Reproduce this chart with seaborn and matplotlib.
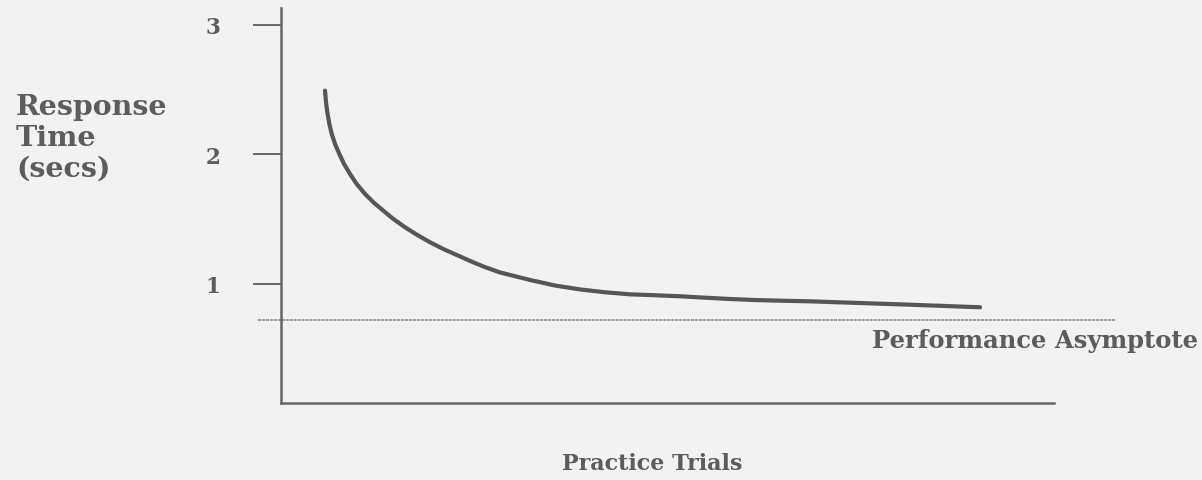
import matplotlib
matplotlib.use("Agg")
import matplotlib.pyplot as plt
import seaborn as sns
import pandas as pd

# Learning curve: response time falling with practice toward an asymptote
trials = [5.69, 5.82, 5.99, 6.25, 6.56, 6.99, 7.54, 8.15, 8.93, 9.79, 10.87,
          11.94, 13.23, 14.53, 16.04, 17.55, 19.28, 20.99, 22.73, 24.45, 26.17,
          28.33, 32.21, 35.45, 38.68, 41.91, 45.15, 48.38, 51.62, 54.85, 58.09,
          61.32, 64.55, 68.43, 74.90, 81.37, 90.43]
response_secs = [2.493, 2.403, 2.326, 2.236, 2.158, 2.081, 2.004, 1.927, 1.849,
                 1.772, 1.695, 1.631, 1.566, 1.502, 1.438, 1.381, 1.322, 1.270,
                 1.224, 1.178, 1.135, 1.089, 1.031, 0.988, 0.958, 0.936, 0.920,
                 0.913, 0.905, 0.894, 0.884, 0.876, 0.871, 0.866, 0.853, 0.840,
                 0.820]
asymptote = 0.72
y_ticks = [1, 2, 3]
y_tick_labels = ["1", "2", "3"]

ylabel_text = "Response\nTime\n(secs)"
xlabel_text = "Practice Trials"
asymptote_text = "Performance Asymptote"

BG = "#f2f2f2"
INK = "#5c5c5c"
LINE = "#666666"

sns.set_theme(style="white")
plt.rcParams["font.family"] = ["DejaVu Serif"]
plt.rcParams["font.weight"] = "bold"

fig = plt.figure(figsize=(12.02, 4.81), dpi=100, facecolor=BG)
ax = fig.add_axes([0.2338, 0.1601, 0.6431, 0.8212])
ax.set_facecolor(BG)

df = pd.DataFrame({"trial": trials, "rt": response_secs})
sns.lineplot(data=df, x="trial", y="rt", ax=ax, color="#565656", linewidth=3.0,
             estimator=None, sort=False, solid_capstyle="round",
             solid_joinstyle="round")

# Asymptote line runs a little past both axes
ax.axhline(asymptote, xmin=-0.03, xmax=1.079, color="#858585", linewidth=1.1,
           linestyle=(0, (2, 0.6)), clip_on=False)
ax.annotate(asymptote_text, xy=(0.7646, asymptote),
            xycoords=("axes fraction", "data"), xytext=(0, -19.5),
            textcoords="offset points", va="baseline", ha="left",
            fontsize=17.5, fontweight="bold", color=INK, annotation_clip=False)

ax.set_xlim(0, 100)
ax.set_ylim(0.081, 3.131)
ax.set_xticks([])
ax.set_yticks(y_ticks)
ax.set_yticklabels(y_tick_labels)
ax.tick_params(axis="y", direction="out", length=20, width=1.4, color=LINE,
               pad=34.5, labelsize=15.5, labelcolor=INK, left=True)
for lbl in ax.get_yticklabels():
    lbl.set_horizontalalignment("left")
    lbl.set_fontweight("bold")

for side in ("top", "right"):
    ax.spines[side].set_visible(False)
for side in ("left", "bottom"):
    ax.spines[side].set_color(LINE)
    ax.spines[side].set_linewidth(1.8)

ax.set_xlabel("")
ax.set_ylabel("")

fig.text(0.0133, 1 - 177 / 481, ylabel_text, ha="left", va="baseline",
         fontsize=20.5, fontweight="bold", color=INK, linespacing=1.2)
fig.text(0.543, 0.023, xlabel_text, ha="center", va="baseline", fontsize=16,
         fontweight="bold", color=INK)

fig.savefig("out.png", dpi=100, facecolor=BG)
